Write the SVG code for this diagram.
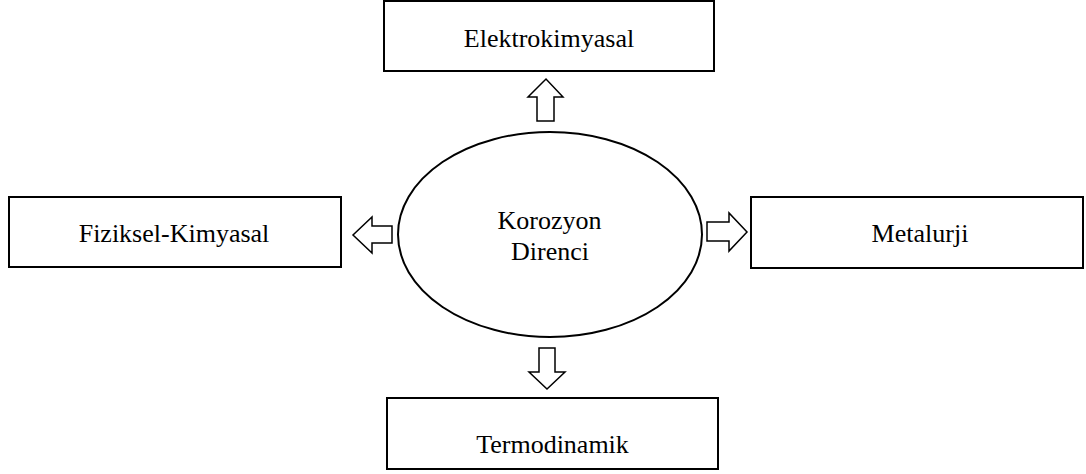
<svg xmlns="http://www.w3.org/2000/svg" width="1086" height="474" viewBox="0 0 1086 474">
<style>
.box{fill:#fff;stroke:#000;stroke-width:2}
.arr{fill:#fff;stroke:#000;stroke-width:1.5;stroke-linejoin:miter}
text{font-family:"Liberation Serif","Times New Roman",serif;font-size:26px;fill:#000;text-anchor:middle}
</style>
<rect width="1086" height="474" fill="#fff"/>
<g id="connectors">
<polygon class="arr" points="537,121 537,97 528,97 546,79 563,97 554,97 554,121"/>
<polygon class="arr" points="392,226 372,226 372,217 353,235 372,253 372,243 392,243"/>
<polygon class="arr" points="707,222 729,222 729,213 747,232 729,251 729,241 707,241"/>
<polygon class="arr" points="539,348 555,348 555,372 565,372 547,389 529,372 539,372"/>
</g>
<g id="center">
<ellipse cx="550" cy="234.5" rx="152" ry="102.5" fill="#fff" stroke="#000" stroke-width="2"/>
<text x="549.5" y="229">Korozyon</text>
<text x="550" y="260">Direnci</text>
</g>
<g id="elektrokimyasal">
<rect class="box" x="384" y="1" width="330" height="70"/>
<text x="549" y="47">Elektrokimyasal</text>
</g>
<g id="fiziksel">
<rect class="box" x="9" y="197" width="332" height="70"/>
<text x="174" y="242">Fiziksel-Kimyasal</text>
</g>
<g id="metalurji">
<rect class="box" x="751" y="197" width="332" height="71"/>
<text x="920" y="242">Metalurji</text>
</g>
<g id="termodinamik">
<rect class="box" x="387" y="398" width="331" height="71"/>
<text x="552.5" y="453">Termodinamik</text>
</g>
</svg>
